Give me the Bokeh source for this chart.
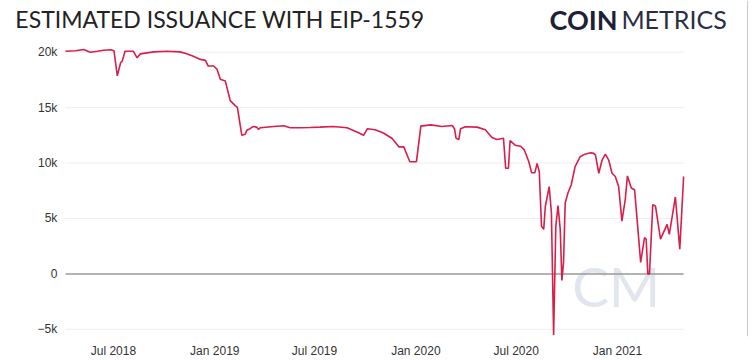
import pandas as pd
from bokeh.plotting import figure
from bokeh.models import Range1d, FixedTicker, Span, Label, ColumnDataSource
from bokeh.embed import file_html
from bokeh.resources import INLINE

# ---- data ----
dates = [
    "2018-04-05", "2018-04-23", "2018-05-08", "2018-05-20", "2018-06-02", "2018-06-13", "2018-06-26",
    "2018-07-02", "2018-07-08", "2018-07-14", "2018-07-17", "2018-07-22", "2018-08-06", "2018-08-13",
    "2018-08-19", "2018-08-31", "2018-09-12", "2018-10-06", "2018-10-30", "2018-11-11", "2018-11-23",
    "2018-12-06", "2018-12-15", "2018-12-20", "2018-12-30",
    "2019-01-05", "2019-01-11", "2019-01-20", "2019-01-29", "2019-02-07", "2019-02-11", "2019-02-19",
    "2019-02-25", "2019-02-28", "2019-03-06", "2019-03-12", "2019-03-18", "2019-03-21", "2019-03-25",
    "2019-04-18", "2019-05-06", "2019-05-18", "2019-06-05", "2019-06-23", "2019-07-11", "2019-08-04",
    "2019-08-29", "2019-09-16", "2019-09-28", "2019-10-05", "2019-10-19", "2019-11-03", "2019-11-19",
    "2019-12-01", "2019-12-10", "2019-12-21",
    "2020-01-02", "2020-01-10", "2020-01-28", "2020-02-17", "2020-03-07", "2020-03-11", "2020-03-14",
    "2020-03-19", "2020-03-22", "2020-03-31", "2020-04-21", "2020-05-06", "2020-05-18", "2020-05-27",
    "2020-06-08", "2020-06-12", "2020-06-17", "2020-06-20", "2020-06-29", "2020-07-09", "2020-07-16",
    "2020-07-24", "2020-07-29", "2020-08-04", "2020-08-08", "2020-08-12", "2020-08-16", "2020-08-20",
    "2020-08-23", "2020-08-30", "2020-09-03", "2020-09-07", "2020-09-11", "2020-09-15", "2020-09-19",
    "2020-09-22", "2020-09-25", "2020-09-28", "2020-10-03", "2020-10-09", "2020-10-16", "2020-10-25",
    "2020-11-03", "2020-11-13", "2020-11-19", "2020-11-22", "2020-11-28", "2020-12-04", "2020-12-10",
    "2020-12-16", "2020-12-22", "2020-12-28",
    "2021-01-03", "2021-01-09", "2021-01-15", "2021-01-19", "2021-01-26", "2021-02-01", "2021-02-06",
    "2021-02-12", "2021-02-19", "2021-02-22", "2021-02-25", "2021-02-28", "2021-03-06", "2021-03-11",
    "2021-03-20", "2021-04-01", "2021-04-05", "2021-04-16", "2021-04-24", "2021-05-01",
]
issuance = [
    20090, 20130, 20240, 20000, 20090, 20180, 20220,
    20130, 17860, 19050, 19200, 20090, 20090, 19490,
    19850, 19940, 20030, 20090, 20030, 19850, 19640,
    19350, 19260, 18750, 18750,
    18460, 17560, 17410, 15630, 15180, 15030, 12500,
    12590, 12950, 13100, 13300, 13240, 13040, 13190,
    13300, 13370, 13190, 13190, 13210, 13240, 13300,
    13190, 12800, 12500, 13100, 13010, 12710, 12210,
    11460, 11460, 10120,
    10120, 13330, 13440, 13300, 13390, 13100, 12230,
    12120, 13100, 13280, 13240, 13010, 12300, 12120,
    12230, 9530, 9530, 12030, 11610, 11520, 11160,
    10120, 9130, 9130, 9970, 9220, 4310, 4020,
    6100, 7880, 5510, -5510, 4310, 6160, 4020,
    -600, 1040, 6400, 7300, 8040, 9670, 10560,
    10800, 10920, 10870, 10710, 9080, 10270, 10800,
    10270, 9080, 8780,
    7880, 4760, 6700, 8840, 7740, 7590, 4620,
    1040, 3280, 3130, 0, 0, 6250, 6100,
    3130, 4460, 3570, 6940, 2230, 8780,
]

x_tick_dates = ["2018-07-01", "2019-01-01", "2019-07-01", "2020-01-01", "2020-07-01", "2021-01-01"]
x_tick_labels = ["Jul 2018", "Jan 2019", "Jul 2019", "Jan 2020", "Jul 2020", "Jan 2021"]
y_ticks = [-5000, 0, 5000, 10000, 15000, 20000]
y_tick_labels = ["\u22125k", "0", "5k", "10k", "15k", "20k"]

title_text = "ESTIMATED ISSUANCE WITH EIP-1559"
logo_bold = "COIN"
logo_light = "METRICS"
watermark = "CM"

BORDER = "#c8c8c8"

def ms(d):
    return pd.Timestamp(d).value / 1e6

# ---- chart: the frame covers the whole width so the header texts are inside it ----
dt = pd.to_datetime(dates)
source = ColumnDataSource(dict(date=dt, value=issuance))

p = figure(
    width=752, height=360, x_axis_type="datetime",
    output_backend="svg", toolbar_location=None,
    x_range=Range1d(pd.Timestamp("2017-12-08"), pd.Timestamp("2021-09-03")),
    y_range=Range1d(-5650, 24664),
    min_border_left=0, min_border_right=0, min_border_top=0, min_border_bottom=22,
)
p.outline_line_color = None
p.background_fill_color = "white"
p.border_fill_color = "white"

p.xaxis.ticker = FixedTicker(ticks=[ms(d) for d in x_tick_dates])
p.xaxis.major_label_overrides = {ms(d): l for d, l in zip(x_tick_dates, x_tick_labels)}
p.yaxis.ticker = FixedTicker(ticks=y_ticks)
p.yaxis.major_label_overrides = {t: l for t, l in zip(y_ticks, y_tick_labels)}
# y axis drawn at the left edge of the plotted area (start of the data)
p.yaxis.fixed_location = ms("2018-04-01")

for ax in (p.xaxis, p.yaxis):
    ax.axis_line_color = None
    ax.major_tick_line_color = None
    ax.minor_tick_line_color = None
    ax.major_tick_out = 0
    ax.major_tick_in = 0
    ax.major_label_text_font = "Liberation Sans"
    ax.major_label_text_font_size = "12px"
    ax.major_label_text_color = "#333333"
p.yaxis.major_label_standoff = 6
p.xaxis.major_label_standoff = 7

p.xgrid.visible = False
p.ygrid.visible = False

# horizontal grid lines spanning the data's extent
grid_vals = [t for t in y_ticks if t != 0]
p.segment(x0=[dt[0]] * len(grid_vals), x1=[dt[-1]] * len(grid_vals),
          y0=grid_vals, y1=grid_vals, line_color="#eeeeee", line_width=1)

# watermark
p.add_layout(Label(x=pd.Timestamp("2020-10-11"), y=-1110, text=watermark,
                   text_font="Lato", text_font_size="55px", text_color="#e1e5ee",
                   text_baseline="alphabetic", level="underlay"))

# zero line
p.segment(x0=[dt[0]], x1=[dt[-1]], y0=[0], y1=[0], line_color="#9a9a9a", line_width=1.5)

p.line(x="date", y="value", source=source, line_color="#d81e4a", line_width=1.6)

# title and logo at the top
p.add_layout(Label(x=pd.Timestamp("2018-01-04"), y=22960, text=title_text,
                   text_font="Lato", text_font_size="23px", text_color="#222222",
                   text_baseline="alphabetic"))
p.add_layout(Label(x=pd.Timestamp("2021-01-01"), y=22960, text=logo_bold,
                   text_font="Lato", text_font_style="bold", text_font_size="27px",
                   text_color="#1d2136", text_baseline="alphabetic", text_align="right"))
p.add_layout(Label(x=pd.Timestamp("2021-01-08"), y=22960, text=logo_light,
                   text_font="Lato", text_font_size="25px",
                   text_color="#2a2e44", text_baseline="alphabetic", text_align="left"))

# thin frame line on the right edge
p.add_layout(Span(location=pd.Timestamp("2021-08-25"), dimension="height",
                  line_color=BORDER, line_width=1))

open("out.html", "w").write(file_html(p, INLINE))
